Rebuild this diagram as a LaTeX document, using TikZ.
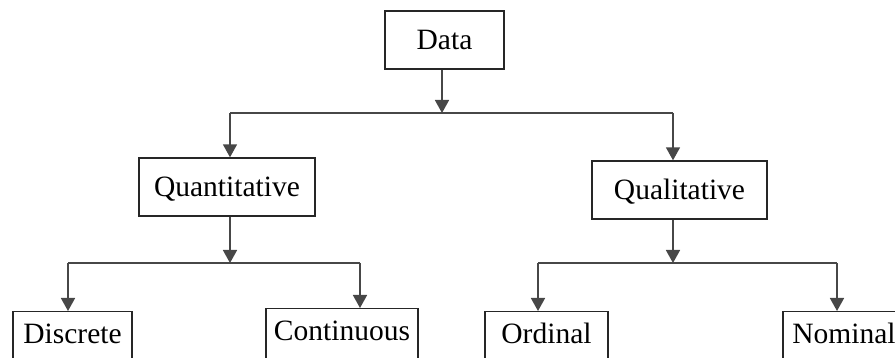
\documentclass[tikz,border=0pt]{standalone}
\usepackage{fontspec}
\setmainfont{Liberation Serif}
\usetikzlibrary{arrows.meta}
\tikzset{
  box/.style={draw=black!85, line width=1.4pt, inner sep=0pt, minimum height=58pt,
    font=\fontsize{29.5}{34}\selectfont, text height=20pt, text depth=0pt},
  lowbox/.style={box, anchor=north, text depth=14pt},
  con/.style={draw=black!72, line width=1.6pt},
  arr/.style={con, -{Triangle[width=14pt,length=13pt]}}
}
\begin{document}
\begin{tikzpicture}[x=1pt,y=-1pt]
\useasboundingbox (0,0) rectangle (895,358);
\clip (0,0) rectangle (895,358);
\node[box, minimum width=119pt] (data) at (444.5,40) {Data};
\node[box, minimum width=176pt] (quant) at (227,187) {Quantitative};
\node[box, minimum width=175pt] (qual) at (679.5,190) {Qualitative};
\node[lowbox, minimum width=119pt] (disc) at (72.5,311) {Discrete};
\node[lowbox, minimum width=152pt] (cont) at (342,308) {Continuous};
\node[lowbox, minimum width=123pt] (ord) at (546.5,311) {Ordinal};
\node[lowbox, minimum width=122pt] (nom) at (844,311) {Nominal};
\coordinate (j1) at (442,113);
\coordinate (a1) at (230,113);
\coordinate (b1) at (673,113);
\coordinate (j2) at (230,263);
\coordinate (c1) at (68,263);
\coordinate (c2) at (360,263);
\coordinate (j3) at (673,263);
\coordinate (d1) at (538,263);
\coordinate (d2) at (837,263);
\draw[con] (a1) -- (b1);
\draw[arr] (data.south -| j1) -- (j1);
\draw[arr] (a1) -- (a1 |- quant.north);
\draw[arr] (b1) -- (b1 |- qual.north);
\draw[con] (c1) -- (c2);
\draw[arr] (quant.south -| j2) -- (j2);
\draw[arr] (c1) -- (c1 |- disc.north);
\draw[arr] (c2) -- (c2 |- cont.north);
\draw[con] (d1) -- (d2);
\draw[arr] (qual.south -| j3) -- (j3);
\draw[arr] (d1) -- (d1 |- ord.north);
\draw[arr] (d2) -- (d2 |- nom.north);
\end{tikzpicture}
\end{document}
